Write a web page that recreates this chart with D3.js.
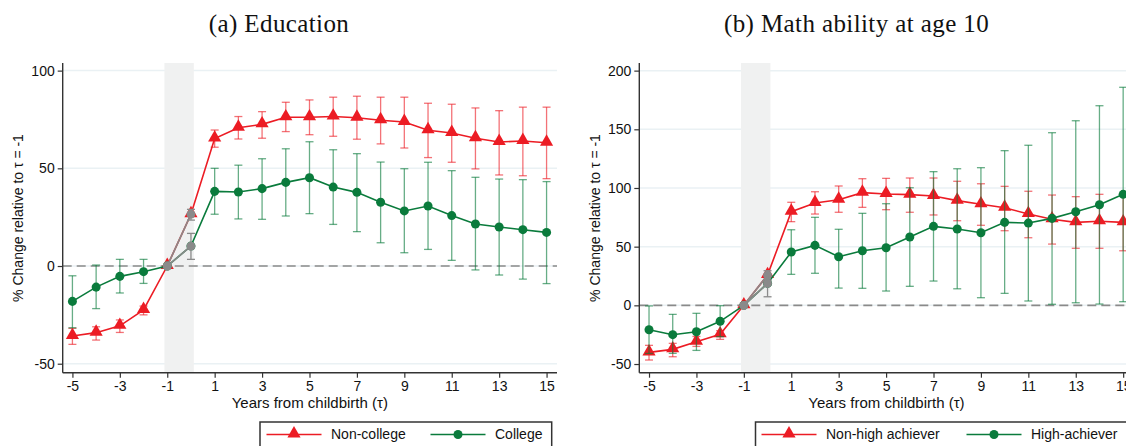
<!DOCTYPE html>
<html>
<head>
<meta charset="utf-8">
<script src="https://cdn.jsdelivr.net/npm/d3@7"></script>
<style>
  body { margin: 0; background: #fff; }
  svg { display: block; }
  text { font-family: "Liberation Sans", Arial, sans-serif; fill: #111; }
  .title { font-family: "Liberation Serif", "Times New Roman", serif; }
</style>
</head>
<body>
<svg id="chart" width="1126" height="446"></svg>
<script>
// event time
const tau = [-5, -4, -3, -2, -1, 0, 1, 2, 3, 4, 5, 6, 7, 8, 9, 10, 11, 12, 13, 14, 15];

// (a) Education
const nonCollege   = [-35.8, -34.1, -30.6, -22.5, 0, 26.5, 65.2, 70.8, 72.5, 76.1, 76.1, 76.5, 75.9, 74.6, 73.7, 69.5, 68.1, 65.4, 63.5, 64.0, 63.1];
const nonCollegeLo = [-40.1, -37.9, -34.0, -25.0, 0, 23.5, 60.8, 65.0, 65.4, 68.8, 67.2, 66.4, 64.9, 62.5, 60.4, 55.5, 53.1, 49.7, 46.6, 46.2, 44.7];
const nonCollegeHi = [-31.9, -31.1, -27.6, -20.5, 0, 29.0, 69.6, 76.5, 79.0, 83.8, 85.0, 86.4, 86.9, 86.4, 86.4, 83.3, 82.8, 80.9, 79.5, 81.3, 81.3];
const college      = [-18.1, -10.8, -5.3, -2.9, 0, 10.2, 38.2, 37.9, 39.6, 42.8, 45.2, 40.4, 37.7, 32.6, 28.2, 30.7, 25.8, 21.5, 20.0, 18.6, 17.2];
const collegeLo    = [-31.6, -21.8, -13.8, -8.9, 0, 3.4, 26.5, 24.1, 23.9, 25.6, 26.8, 21.3, 17.6, 11.9, 6.8, 8.5, 2.9, -2.0, -4.6, -6.7, -9.0];
const collegeHi    = [-5.0, 0.5, 3.4, 3.4, 0, 16.7, 50.0, 51.6, 54.9, 60.0, 63.6, 59.5, 57.5, 53.2, 49.8, 53.1, 48.8, 45.4, 44.5, 44.2, 43.2];

// (b) Math ability at age 10
const nonHigh   = [-40.1, -37.5, -31.0, -24.7, 0, 25.8, 79.8, 87.2, 90.0, 96.0, 94.9, 94.3, 93.2, 89.2, 86.1, 83.2, 77.8, 73.3, 70.7, 71.6, 70.7];
const nonHighLo = [-46.6, -43.8, -35.0, -29.0, 0, 21.6, 71.3, 77.8, 79.3, 83.5, 81.5, 79.3, 77.0, 72.1, 68.2, 63.6, 57.6, 52.2, 48.6, 48.6, 46.5];
const nonHighHi = [-34.1, -32.4, -26.5, -21.6, 0, 29.5, 87.8, 96.8, 101.7, 107.9, 108.2, 108.5, 108.5, 105.7, 103.6, 101.4, 97.2, 94.0, 92.6, 94.6, 93.2];
const highAch   = [-20.8, -25.0, -22.5, -13.6, 0, 18.7, 45.4, 51.1, 41.4, 46.5, 49.1, 58.2, 67.3, 65.0, 61.9, 70.7, 70.1, 74.1, 79.8, 85.7, 94.6];
const highAchLo = [-41.0, -40.9, -38.4, -26.7, 0, 7.3, 26.4, 27.3, 14.7, 14.5, 12.2, 16.2, 20.7, 14.1, 6.5, 10.2, 3.7, 0.9, 2.2, 1.1, 3.1];
const highAchHi = [-0.5, -7.7, -6.8, -0.3, 0, 25.0, 64.4, 75.0, 64.8, 78.4, 86.6, 100.2, 113.9, 116.4, 117.3, 131.8, 136.4, 147.1, 157.3, 170.1, 185.8];

const xTicks = [-5, -3, -1, 1, 3, 5, 7, 9, 11, 13, 15];
const yTicksA = [-50, 0, 50, 100];
const yTicksB = [-50, 0, 50, 100, 150, 200];

const RED = "#ec1c24", GREEN = "#0a7b3c", GRAY = "#8a8a8a";

const svg = d3.select("#chart");
const plain = d => String(d); // hyphen minus, as in the original

function rows(m, lo, hi) {
    return tau.map((t, i) => ({ t: t, m: m[i], lo: lo[i], hi: hi[i] }));
}

function drawPanel(p) {
    const x = d3.scaleLinear().domain([-5.41, 15.44]).range([p.left, p.left + 494.3]);
    const y = d3.scaleLinear().domain(p.yDomain).range([372.7, 63]);
    const g = svg.append("g");

    // horizontal grid
    g.append("g").selectAll("line")
        .data(p.yTicks)
        .enter().append("line")
        .attr("x1", x.range()[0]).attr("x2", x.range()[1])
        .attr("y1", d => y(d)).attr("y2", d => y(d))
        .attr("stroke", "#eaf1f4").attr("stroke-width", 1.5);

    // shaded band around tau = -1..0
    g.append("rect")
        .attr("x", x(-1.12)).attr("width", x(0.12) - x(-1.12))
        .attr("y", 63).attr("height", 372.7 - 63)
        .attr("fill", "#f0f1f1");

    g.append("line")
        .attr("x1", x.range()[0]).attr("x2", x.range()[1])
        .attr("y1", y(0)).attr("y2", y(0))
        .attr("stroke", GRAY).attr("stroke-width", 1.6)
        .attr("stroke-dasharray", "9,5");

    const line = d3.line().x(d => x(d.t)).y(d => y(d.m));
    const tri = d3.symbol().type(d3.symbolTriangle).size(75);

    p.series.forEach(s => {
        const data = rows(s.m, s.lo, s.hi);
        const ci = data.filter(d => d.t !== -1 && d.t !== 0);

        const bars = g.append("g")
            .attr("stroke", s.color).attr("stroke-opacity", 0.62).attr("stroke-width", 1.3);
        bars.selectAll(".v").data(ci).enter().append("line")
            .attr("x1", d => x(d.t)).attr("x2", d => x(d.t))
            .attr("y1", d => y(d.lo)).attr("y2", d => y(d.hi));
        bars.selectAll(".c").data(ci.flatMap(d => [[d.t, d.lo], [d.t, d.hi]])).enter().append("line")
            .attr("x1", d => x(d[0]) - 4).attr("x2", d => x(d[0]) + 4)
            .attr("y1", d => y(d[1])).attr("y2", d => y(d[1]));

        g.append("path").datum(data)
            .attr("d", line)
            .attr("fill", "none").attr("stroke", s.color).attr("stroke-width", 1.6);

        const marks = g.append("g").selectAll("path").data(data).enter().append("path")
            .attr("fill", s.color);
        if (s.shape === "triangle") {
            marks.attr("transform", d => `translate(${x(d.t)},${y(d.m) - 0.8})`).attr("d", tri);
        } else {
            marks.attr("transform", d => `translate(${x(d.t)},${y(d.m)})`)
                .attr("d", d3.symbol().type(d3.symbolCircle).size(64));
        }
    });

    // grey overlay for tau = -1 and 0
    p.series.forEach(s => {
        const data = rows(s.m, s.lo, s.hi).filter(d => d.t === -1 || d.t === 0);
        const d0 = data[1];
        const bars = g.append("g").attr("stroke", GRAY).attr("stroke-width", 1.3);
        bars.append("line")
            .attr("x1", x(d0.t)).attr("x2", x(d0.t))
            .attr("y1", y(d0.lo)).attr("y2", y(d0.hi));
        [d0.lo, d0.hi].forEach(v => bars.append("line")
            .attr("x1", x(d0.t) - 4).attr("x2", x(d0.t) + 4)
            .attr("y1", y(v)).attr("y2", y(v)));
        g.append("path").datum(data).attr("d", line)
            .attr("fill", "none").attr("stroke", GRAY).attr("stroke-width", 1.6);
        g.selectAll(null).data(data).enter().append("circle")
            .attr("cx", d => x(d.t)).attr("cy", d => y(d.m)).attr("r", 4.4)
            .attr("fill", GRAY);
    });

    // axes
    const yAxis = g.append("g")
        .attr("transform", `translate(${x.range()[0]},0)`)
        .call(d3.axisLeft(y).tickValues(p.yTicks).tickFormat(plain).tickSize(5).tickPadding(3));
    const xAxis = g.append("g")
        .attr("transform", "translate(0,372.7)")
        .call(d3.axisBottom(x).tickValues(xTicks).tickFormat(plain).tickSize(5).tickPadding(3));
    [xAxis, yAxis].forEach(a => {
        a.select(".domain").attr("stroke", "#333").attr("stroke-width", 1.4)
            .attr("d", a === xAxis ? `M${x.range()[0]},0H${x.range()[1]}` : `M0,63V372.7`);
        a.selectAll(".tick line").attr("stroke", "#333").attr("stroke-width", 1.2);
        a.selectAll(".tick text").attr("font-size", 14).attr("fill", "#111")
            .attr("font-family", "Liberation Sans, Arial, sans-serif");
    });

    svg.append("text")
        .attr("class", "title")
        .attr("x", p.titleX).attr("y", 32)
        .attr("text-anchor", "middle")
        .attr("font-size", 25)
        .attr("letter-spacing", 0.4)
        .text(p.title);

    svg.append("text")
        .attr("transform", `translate(${p.yLabelX},218) rotate(-90)`)
        .attr("text-anchor", "middle").attr("dy", "0.35em")
        .attr("font-size", 14)
        .text("% Change relative to \u03c4 = -1");

    svg.append("text")
        .attr("x", (x.range()[0] + x.range()[1]) / 2).attr("y", 407.5)
        .attr("text-anchor", "middle")
        .attr("font-size", 15)
        .text("Years from childbirth (\u03c4)");

    // legend
    const lg = svg.append("g");
    lg.append("rect")
        .attr("x", p.legend.x).attr("y", 422).attr("width", p.legend.w).attr("height", 40)
        .attr("fill", "#fff").attr("stroke", "#333").attr("stroke-width", 1.5);
    p.series.forEach((s, i) => {
        const lx = p.legend.items[i];
        lg.append("line")
            .attr("x1", lx).attr("x2", lx + 55).attr("y1", 434.5).attr("y2", 434.5)
            .attr("stroke", s.color).attr("stroke-width", 1.6);
        lg.append("path")
            .attr("transform", `translate(${lx + 27.5},${s.shape === "triangle" ? 433.7 : 434.5})`)
            .attr("d", d3.symbol().type(s.shape === "triangle" ? d3.symbolTriangle : d3.symbolCircle)
                .size(s.shape === "triangle" ? 75 : 64))
            .attr("fill", s.color);
        lg.append("text")
            .attr("x", lx + 64.5).attr("y", 434.5).attr("dy", "0.35em")
            .attr("font-size", 14)
            .text(s.name);
    });
}

drawPanel({
    left: 62.7,
    yDomain: [-54.6, 103.9],
    yTicks: yTicksA,
    title: "(a) Education",
    titleX: 279,
    yLabelX: 18,
    legend: { x: 260, w: 291.7, items: [266.5, 430.5] },
    series: [
        { name: "Non-college", m: nonCollege, lo: nonCollegeLo, hi: nonCollegeHi, color: RED, shape: "triangle" },
        { name: "College", m: college, lo: collegeLo, hi: collegeHi, color: GREEN, shape: "circle" }
    ]
});

drawPanel({
    left: 639.3,
    yDomain: [-57.4, 206.5],
    yTicks: yTicksB,
    title: "(b) Math ability at age 10",
    titleX: 856.5,
    yLabelX: 595,
    legend: { x: 755.5, w: 400, items: [761.5, 966.5] },
    series: [
        { name: "Non-high achiever", m: nonHigh, lo: nonHighLo, hi: nonHighHi, color: RED, shape: "triangle" },
        { name: "High-achiever", m: highAch, lo: highAchLo, hi: highAchHi, color: GREEN, shape: "circle" }
    ]
});
</script>
</body>
</html>
